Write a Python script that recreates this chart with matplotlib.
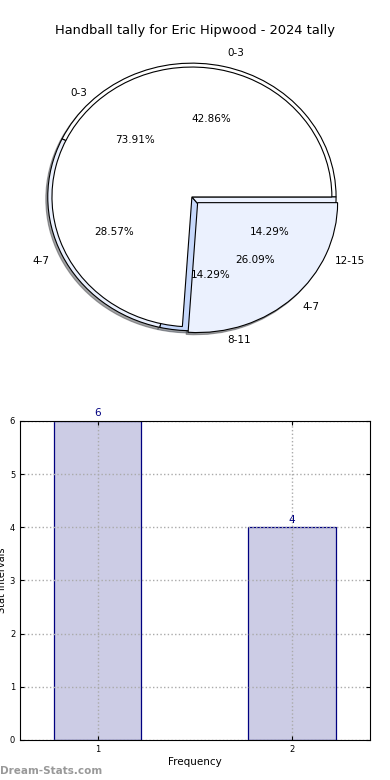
import matplotlib
matplotlib.use("Agg")
import matplotlib.pyplot as plt

TITLE = "Handball tally for Eric Hipwood - 2024 tally"

# pie drawn underneath
BACK_LABELS = ["0-3", "4-7", "8-11", "12-15"]
BACK_VALUES = [3, 2, 1, 1]
BACK_COLORS = ["#ffffff", "#ebf1fe", "#c6d8fb", "#ebf1fe"]

# pie drawn on top
FRONT_LABELS = ["0-3", "4-7"]
FRONT_VALUES = [17, 6]
FRONT_COLORS = ["#ffffff", "#ebf1fe"]
FRONT_EXPLODE = [0, 0.06]

# bar chart
BAR_X = [1, 2]
BAR_VALUES = [6, 4]

fig = plt.figure(figsize=(3.9, 7.8), dpi=100)

ax_pie = fig.add_axes([0.0256, 0.531, 0.933, 0.433])
ax_pie.pie(
    BACK_VALUES,
    labels=BACK_LABELS,
    colors=BACK_COLORS,
    radius=1.03,
    autopct="%.2f%%",
    shadow=dict(ox=-0.01, oy=-0.012, zorder=0.5),
    startangle=0,
    wedgeprops=dict(edgecolor="black", linewidth=0.8, zorder=1),
    textprops=dict(fontsize=7.5),
)
ax_pie.pie(
    FRONT_VALUES,
    labels=FRONT_LABELS,
    colors=FRONT_COLORS,
    explode=FRONT_EXPLODE,
    radius=1.0,
    autopct="%.2f%%",
    shadow=dict(ox=-0.01, oy=-0.012, zorder=0.4),
    startangle=0,
    wedgeprops=dict(edgecolor="black", linewidth=0.8, zorder=2),
    textprops=dict(fontsize=7.5),
)
ax_pie.set_aspect("auto")
ax_pie.set_xlim(-1.3, 1.3)
ax_pie.set_ylim(-1.3, 1.3)
ax_pie.axis("off")

fig.text(0.5, 0.961, TITLE, ha="center", va="center", fontsize=9.4)

ax = fig.add_axes([0.0513, 0.0513, 0.897, 0.409])
ax.bar(BAR_X, BAR_VALUES, width=0.45, color="navy", alpha=0.2,
       edgecolor="none", zorder=1)
ax.bar(BAR_X, BAR_VALUES, width=0.45, facecolor="none", edgecolor="navy",
       linewidth=0.9, zorder=2)
for x, v in zip(BAR_X, BAR_VALUES):
    ax.text(x, v + 0.05, str(v), ha="center", va="bottom", color="navy", fontsize=7.5)

ax.set_xlim(0.6, 2.4)
ax.set_ylim(0, 6)
ax.set_xticks(BAR_X)
ax.set_yticks(range(0, 7))
ax.grid(True, linestyle=":", color="#aaaaaa", linewidth=1.0, zorder=3)
ax.set_axisbelow(False)
for s in ax.spines.values():
    s.set_zorder(4)
ax.tick_params(labelsize=6, length=3, direction="in", top=True, right=True)
ax.set_xlabel("Frequency", fontsize=7.5, labelpad=2)
ax.set_ylabel("Stat intervals", fontsize=7)
ax.yaxis.set_label_coords(-0.036, 0.5)

fig.text(0.0, 0.005, "Dream-Stats.com", ha="left", va="bottom", fontsize=7.5,
         color="#999999", fontweight="bold")

fig.savefig("out.png", dpi=100)
